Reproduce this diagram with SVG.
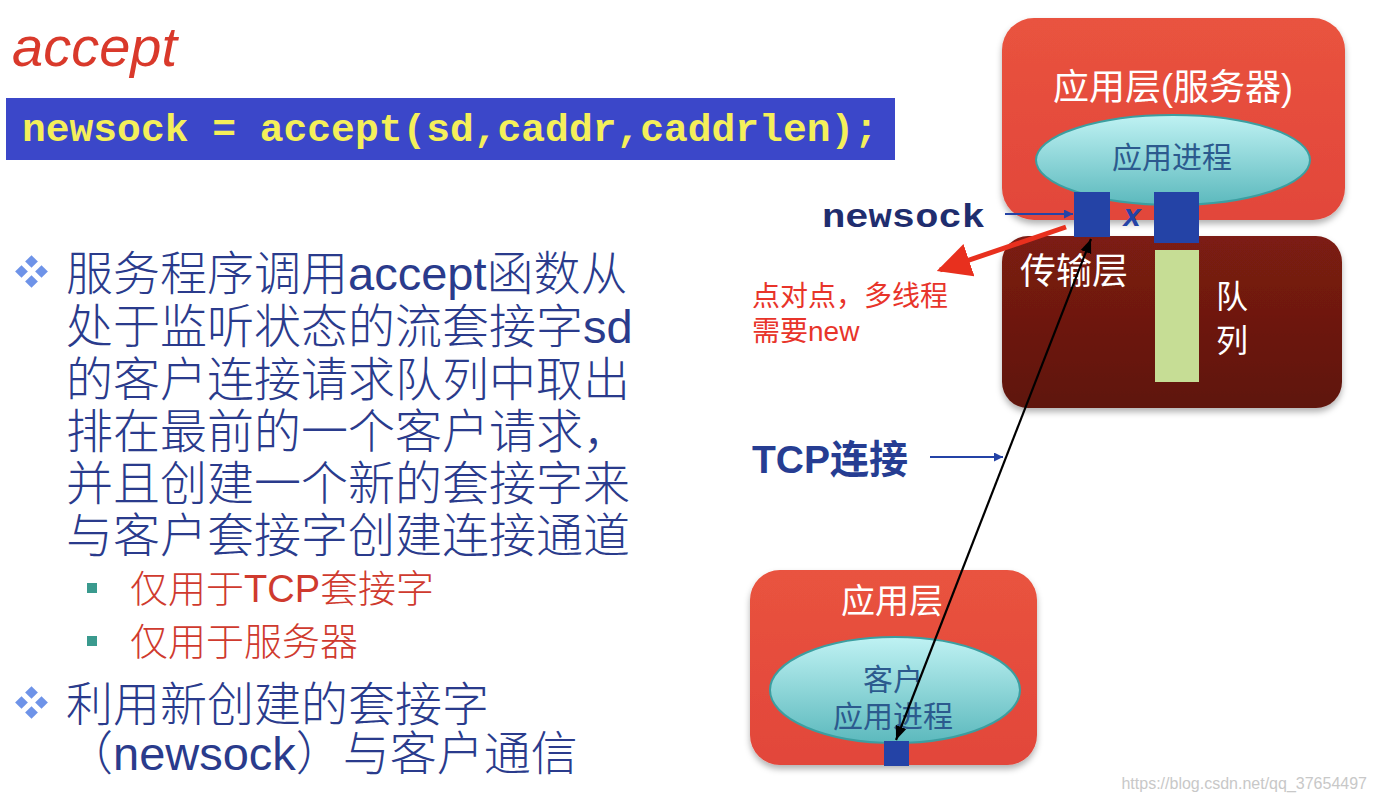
<svg xmlns="http://www.w3.org/2000/svg" width="1376" height="800" viewBox="0 0 1376 800">
<style>
.body{font-family:"Liberation Sans","Noto Sans CJK SC",sans-serif;font-size:47px;fill:#2a3b8c;font-weight:300}
.sub{font-family:"Liberation Sans","Noto Sans CJK SC",sans-serif;font-size:38px;fill:#cf3a2e;font-weight:300}
.white{font-family:"Liberation Sans","Noto Sans CJK SC",sans-serif;fill:#ffffff}
.proc{font-family:"Liberation Sans","Noto Sans CJK SC",sans-serif;fill:#2c5a8e}
.dia{fill:#6e93e8}
.sock{fill:#2443a6}
.note{font-family:"Liberation Sans","Noto Sans CJK SC",sans-serif;font-size:28px;fill:#e8342a}
</style>
<defs>
<linearGradient id="gRed" x1="0" y1="0" x2="0" y2="1">
<stop offset="0" stop-color="#e9533f"/>
<stop offset="1" stop-color="#e2463a"/>
</linearGradient>
<linearGradient id="gDark" x1="0" y1="0" x2="0" y2="1">
<stop offset="0" stop-color="#7c1c12"/>
<stop offset="1" stop-color="#5f150e"/>
</linearGradient>
<linearGradient id="gEll" x1="0" y1="0" x2="0" y2="1">
<stop offset="0" stop-color="#bff2f3"/>
<stop offset="1" stop-color="#5cb9bd"/>
</linearGradient>
<filter id="sh" x="-10%" y="-10%" width="120%" height="125%">
<feDropShadow dx="0" dy="4" stdDeviation="3" flood-color="#000" flood-opacity="0.3"/>
</filter>
<marker id="ab" viewBox="0 0 10 10" refX="10" refY="5" markerWidth="9" markerHeight="9" orient="auto-start-reverse" markerUnits="userSpaceOnUse">
<path d="M0,0 L10,5 L0,10 z" fill="#2443a6"/>
</marker>
<marker id="ak" viewBox="0 0 10 10" refX="10" refY="5" markerWidth="14" markerHeight="14" orient="auto-start-reverse" markerUnits="userSpaceOnUse">
<path d="M0,1 L10,5 L0,9 z" fill="#000"/>
</marker>
<marker id="ar" viewBox="0 0 10 10" refX="9" refY="5" markerWidth="34" markerHeight="34" orient="auto" markerUnits="userSpaceOnUse">
<path d="M0,0 L10,5 L0,10 z" fill="#e8301e"/>
</marker>
</defs>
<rect width="1376" height="800" fill="#ffffff"/>

<g id="title">
<text x="12" y="66" font-family="Liberation Sans, sans-serif" font-style="italic" font-size="56" fill="#d9392b">accept</text>
</g>

<g id="code">
<rect x="6" y="98" width="889" height="62" fill="#3b47c9"/>
<text x="22" y="141" font-family="Liberation Mono, monospace" font-weight="bold" font-size="38" fill="#f4ef5a" textLength="856" lengthAdjust="spacingAndGlyphs">newsock = accept(sd,caddr,caddrlen);</text>
</g>

<g id="bullets">
<g id="bullet1-mark">
<rect class="dia" x="27" y="257" width="9" height="9" transform="rotate(45 31.5 261.5)"/>
<rect class="dia" x="17" y="267" width="9" height="9" transform="rotate(45 21.5 271.5)"/>
<rect class="dia" x="37" y="267" width="9" height="9" transform="rotate(45 41.5 271.5)"/>
<rect class="dia" x="27" y="277" width="9" height="9" transform="rotate(45 31.5 281.5)"/>
</g>
<text class="body" x="66" y="290">服务程序调用accept函数从</text>
<text class="body" x="66" y="343">处于监听状态的流套接字sd</text>
<text class="body" x="66" y="396">的客户连接请求队列中取出</text>
<text class="body" x="66" y="448">排在最前的一个客户请求，</text>
<text class="body" x="66" y="500">并且创建一个新的套接字来</text>
<text class="body" x="66" y="552">与客户套接字创建连接通道</text>
<rect x="87" y="583" width="10" height="10" fill="#3a9a8e"/>
<text class="sub" x="130" y="602">仅用于TCP套接字</text>
<rect x="87" y="636" width="10" height="10" fill="#3a9a8e"/>
<text class="sub" x="130" y="655">仅用于服务器</text>
<g id="bullet2-mark">
<rect class="dia" x="27" y="688" width="9" height="9" transform="rotate(45 31.5 692.5)"/>
<rect class="dia" x="17" y="698" width="9" height="9" transform="rotate(45 21.5 702.5)"/>
<rect class="dia" x="37" y="698" width="9" height="9" transform="rotate(45 41.5 702.5)"/>
<rect class="dia" x="27" y="708" width="9" height="9" transform="rotate(45 31.5 712.5)"/>
</g>
<text class="body" x="66" y="721">利用新创建的套接字</text>
<text class="body" x="66" y="770">（newsock）与客户通信</text>
</g>

<g id="server-app">
<rect x="1002" y="18" width="343" height="202" rx="32" fill="url(#gRed)" filter="url(#sh)"/>
<text class="white" x="1173" y="100" font-size="36" text-anchor="middle">应用层(服务器)</text>
</g>

<g id="server-process">
<ellipse cx="1173" cy="160" rx="137" ry="45" fill="url(#gEll)" stroke="#3c9ea0" stroke-width="2"/>
<text class="proc" x="1172" y="168" font-size="30" text-anchor="middle">应用进程</text>
</g>

<g id="transport">
<rect x="1002" y="236" width="340" height="172" rx="26" fill="url(#gDark)" filter="url(#sh)"/>
<text class="white" x="1020" y="284" font-size="36">传输层</text>
</g>

<g id="queue">
<rect x="1155" y="250" width="44" height="132" fill="#c6dd95"/>
<text class="white" x="1232" y="308" font-size="32" text-anchor="middle">队</text>
<text class="white" x="1232" y="352" font-size="32" text-anchor="middle">列</text>
</g>

<g id="newsock-socket">
<rect class="sock" x="1074" y="192" width="36" height="45"/>
</g>
<g id="listen-socket">
<rect class="sock" x="1154" y="192" width="45" height="51"/>
</g>
<g id="x-mark">
<text x="1132" y="226" font-family="Liberation Sans, sans-serif" font-weight="bold" font-style="italic" font-size="31" fill="#2443a6" text-anchor="middle">x</text>
</g>

<g id="newsock-label">
<text x="822" y="227" font-family="Liberation Mono, monospace" font-weight="bold" font-size="34" fill="#1f2d6e" textLength="163" lengthAdjust="spacingAndGlyphs">newsock</text>
</g>

<g id="note">
<text class="note" x="752" y="306">点对点，多线程</text>
<text class="note" x="752" y="341">需要new</text>
</g>

<g id="tcp-label">
<text x="752" y="473" font-family="Liberation Sans, 'Noto Sans CJK SC', sans-serif" font-weight="bold" font-size="39" fill="#263d92">TCP连接</text>
</g>

<g id="client-app">
<rect x="750" y="570" width="287" height="195" rx="30" fill="url(#gRed)" filter="url(#sh)"/>
<text class="white" x="892" y="613" font-size="34" text-anchor="middle">应用层</text>
</g>

<g id="client-process">
<ellipse cx="895" cy="690" rx="125" ry="53" fill="url(#gEll)" stroke="#3c9ea0" stroke-width="2"/>
<text class="proc" x="893" y="690" font-size="30" text-anchor="middle">客户</text>
<text class="proc" x="893" y="727" font-size="30" text-anchor="middle">应用进程</text>
</g>

<g id="client-socket">
<rect class="sock" x="884" y="741" width="25" height="25"/>
</g>

<g id="connectors">
<line x1="1005" y1="214" x2="1073" y2="214" stroke="#2443a6" stroke-width="2" marker-end="url(#ab)"/>
<line x1="930" y1="457" x2="1003" y2="457" stroke="#2443a6" stroke-width="2" marker-end="url(#ab)"/>
<line x1="896" y1="740" x2="1091" y2="239" stroke="#000" stroke-width="2.2" marker-start="url(#ak)" marker-end="url(#ak)"/>
<line x1="1066" y1="227" x2="940" y2="270" stroke="#e8301e" stroke-width="5" marker-end="url(#ar)"/>
</g>

<g id="watermark">
<text x="1367" y="789" font-family="Liberation Sans, sans-serif" font-size="16" fill="#c8c8c8" text-anchor="end">https://blog.csdn.net/qq_37654497</text>
</g>
</svg>
